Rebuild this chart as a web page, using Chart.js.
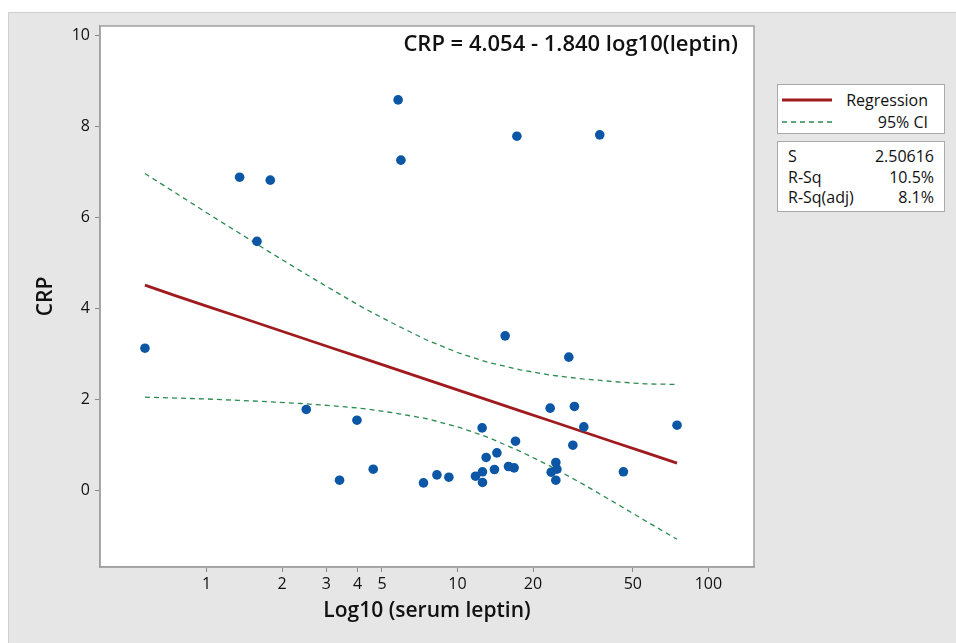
<!DOCTYPE html>
<html><head><meta charset="utf-8">
<script src="https://cdn.jsdelivr.net/npm/chart.js@4.4.1/dist/chart.umd.min.js"></script>
<style>
html,body{margin:0;padding:0;background:#fff;}
#wrap{position:relative;width:956px;height:643px;overflow:hidden;}
#panel{position:absolute;left:8px;top:12px;right:0;bottom:0;background:#e6e6e6;border-top:1px solid #cfcfcf;border-left:1px solid #cfcfcf;}
#c{position:absolute;left:0;top:0;}
.t{position:absolute;font-family:"Open Sans",sans-serif;color:#111;white-space:nowrap;}
#eq{right:218px;top:27px;font-size:22px;font-weight:600;line-height:30px;}
.box{position:absolute;left:777px;width:166px;background:#fff;border:1.5px solid #aaa;}
#leg{top:84px;height:48px;}
#stat{top:141px;height:69px;}
.row{position:absolute;left:0;right:0;height:20px;font-family:"Open Sans",sans-serif;font-size:16px;font-weight:500;color:#111;line-height:20px;}
.row .l{position:absolute;left:10px;}
.row .r{position:absolute;right:10px;}
</style></head>
<body>
<div id="wrap">
<div id="panel"></div>
<canvas id="c" width="956" height="643"></canvas>
<div id="eq" class="t">CRP = 4.054 - 1.840 log10(leptin)</div>
<div id="leg" class="box">
  <svg style="position:absolute;left:4px;top:0" width="52" height="48">
    <line x1="0" y1="15" x2="50" y2="15" stroke="#9e1b1f" stroke-width="2.8"/>
    <line x1="0" y1="37" x2="50" y2="37" stroke="#2a8a50" stroke-width="1.3" stroke-dasharray="5,4"/>
  </svg>
  <div class="row" style="top:5px"><span class="r" style="right:16px">Regression</span></div>
  <div class="row" style="top:27px"><span class="r" style="right:16px">95% CI</span></div>
</div>
<div id="stat" class="box">
  <div class="row" style="top:4px"><span class="l">S</span><span class="r">2.50616</span></div>
  <div class="row" style="top:25px"><span class="l">R-Sq</span><span class="r">10.5%</span></div>
  <div class="row" style="top:45px"><span class="l">R-Sq(adj)</span><span class="r">8.1%</span></div>
</div>
</div>
<script>
// scatter data (serum leptin, CRP)
const leptin = [0.568,1.354,1.588,1.794,2.496,3.388,3.975,4.615,5.80,5.95,7.32,8.28,9.24,11.8,12.58,12.58,12.54,13.01,14.04,14.36,15.49,15.97,16.82,17.03,17.25,23.41,23.63,24.66,24.9,24.66,27.78,28.83,29.25,31.88,36.9,45.85,75.0];
const crp    = [3.125,6.88,5.47,6.815,1.78,0.226,1.544,0.468,8.577,7.254,0.167,0.343,0.292,0.314,0.41,0.176,1.375,0.725,0.461,0.826,3.396,0.527,0.497,1.083,7.78,1.808,0.402,0.615,0.468,0.226,2.928,0.995,1.845,1.397,7.81,0.41,1.434];
// regression line and 95% CI
const fitX   = [0.568,0.750,1,1.334,1.778,2.371,3.162,4.217,5.623,7.499,10,13.34,17.78,23.71,31.62,42.17,56.23,75];
const fitY   = [4.51,4.28,4.05,3.82,3.59,3.36,3.13,2.90,2.67,2.44,2.21,1.98,1.75,1.52,1.29,1.06,0.83,0.60];
const ciUp   = [6.96,6.54,6.10,5.67,5.24,4.82,4.41,4.01,3.65,3.31,3.03,2.81,2.65,2.53,2.45,2.39,2.34,2.33];
const ciLow  = [2.05,2.03,2.01,1.98,1.95,1.91,1.86,1.80,1.70,1.58,1.40,1.16,0.86,0.52,0.14,-0.26,-0.67,-1.07];
// ticks
const xTicks = [1,2,3,4,5,10,20,50,100];
const yTicks = [0,2,4,6,8,10];

const pts = (xs, ys) => xs.map((x,i)=>({x:x, y:ys[i]}));
Chart.defaults.color = '#111';
Chart.defaults.font.family = '"Open Sans", sans-serif';

const framePlugin = {
  id:'frame',
  beforeDraw(chart){
    const a = chart.chartArea, ctx = chart.ctx;
    ctx.save(); ctx.fillStyle='#fff'; ctx.fillRect(a.left,a.top,a.right-a.left,a.bottom-a.top); ctx.restore();
  },
  afterDraw(chart){
    const a = chart.chartArea, ctx = chart.ctx;
    ctx.save(); ctx.strokeStyle='#a0a0a0'; ctx.lineWidth=1.5;
    ctx.strokeRect(a.left,a.top,a.right-a.left,a.bottom-a.top); ctx.restore();
  }
};

new Chart(document.getElementById('c'), {
  data:{datasets:[
    {type:'line', data:pts(fitX,ciUp), borderColor:'#2a8a50', borderWidth:1.3, borderDash:[5,4], pointRadius:0, fill:false, tension:0, order:3},
    {type:'line', data:pts(fitX,ciLow), borderColor:'#2a8a50', borderWidth:1.3, borderDash:[5,4], pointRadius:0, fill:false, tension:0, order:3},
    {type:'line', data:pts(fitX,fitY), borderColor:'#9e1b1f', borderWidth:2.8, pointRadius:0, fill:false, tension:0, order:2},
    {type:'scatter', data:pts(leptin,crp), backgroundColor:'#0c56a6', pointRadius:4.8, pointBorderWidth:0, order:1}
  ]},
  options:{
    responsive:false, animation:false,
    layout:{padding:{left:0,right:202,top:26,bottom:0}},
    plugins:{legend:{display:false}, tooltip:{enabled:false}},
    scales:{
      x:{type:'logarithmic', min:0.376, max:152,
        afterBuildTicks(s){ s.ticks = xTicks.map(v=>({value:v})); },
        afterFit(s){ s.height = 76; },
        ticks:{callback:(v)=>String(v), font:{size:16}, color:'#111', padding:3, maxRotation:0, autoSkip:false},
        grid:{drawOnChartArea:false, drawTicks:true, tickLength:5, color:'#888'},
        border:{display:true, color:'#a0a0a0', width:1.5},
        title:{display:true, text:'Log10 (serum leptin)', font:{size:21, weight:'600'}, color:'#111', padding:{top:0,bottom:19}}
      },
      y:{type:'linear', min:-1.68, max:10.2,
        afterBuildTicks(s){ s.ticks = yTicks.map(v=>({value:v})); },
        afterFit(s){ s.width = 100; },
        ticks:{font:{size:16}, color:'#111', padding:5, autoSkip:false},
        grid:{drawOnChartArea:false, drawTicks:true, tickLength:5, color:'#888'},
        border:{display:true, color:'#a0a0a0', width:1.5},
        title:{display:true, text:'CRP', font:{size:21, weight:'600'}, color:'#111', padding:{top:33,bottom:0}}
      }
    }
  },
  plugins:[framePlugin]
});
</script>
</body></html>
